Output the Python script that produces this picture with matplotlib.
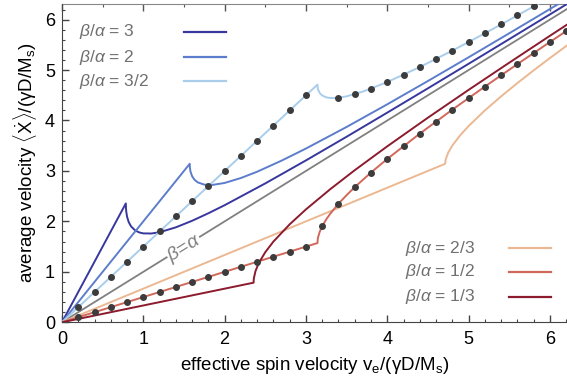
import matplotlib
matplotlib.use('Agg')
import matplotlib.pyplot as plt
from matplotlib.ticker import MultipleLocator

plt.rcParams['font.family'] = ['Liberation Sans', 'DejaVu Sans']
plt.rcParams['mathtext.fontset'] = 'custom'
plt.rcParams['mathtext.rm'] = 'Liberation Sans'
plt.rcParams['mathtext.it'] = 'Liberation Sans:italic'

# ratios beta/alpha and their colours
ratio_labels = ['3', '2', '3/2', '2/3', '1/2', '1/3']
ratio_colors = ['#37379e', '#5c7dcb', '#a9cdea', '#ebb892', '#d0685b', '#8b1b2d']

# average velocity curves (u = effective spin velocity)
u_3 = [0, 0.785, 0.787, 0.79, 0.80, 0.82, 0.85, 0.90, 0.95, 1.0, 1.1, 1.2, 1.4, 1.6, 1.8, 2.0,
       2.5, 3.0, 3.5, 4.0, 4.5, 5.0, 5.5, 6.0, 6.5]
v_3 = [0, 2.356, 2.261, 2.200, 2.096, 1.989, 1.900, 1.821, 1.781, 1.762, 1.760, 1.785, 1.882,
       2.012, 2.161, 2.321, 2.753, 3.209, 3.678, 4.156, 4.638, 5.124, 5.613, 6.103, 6.595]

u_2 = [0, 1.571, 1.5725, 1.58, 1.60, 1.63, 1.67, 1.75, 1.85, 2.0, 2.2, 2.4, 2.7, 3.0, 3.5, 4.0,
       4.5, 5.0, 5.5, 6.0, 6.5]
v_2 = [0, 3.142, 3.072, 2.990, 2.896, 2.825, 2.773, 2.729, 2.723, 2.762, 2.860, 2.985, 3.204,
       3.444, 3.872, 4.321, 4.783, 5.253, 5.729, 6.209, 6.693]

u_32 = [0, 3.142, 3.144, 3.15, 3.17, 3.2, 3.25, 3.3, 3.4, 3.5, 3.7, 4.0, 4.4, 4.8, 5.2, 5.6, 6.0]
v_32 = [0, 4.712, 4.655, 4.610, 4.543, 4.496, 4.459, 4.445, 4.450, 4.479, 4.573, 4.762, 5.060,
        5.385, 5.728, 6.082, 6.444]

u_23 = [0, 4.712, 4.714, 4.72, 4.75, 4.8, 4.9, 5.0, 5.2, 5.4, 5.6, 5.8, 6.0, 6.3, 6.5]
v_23 = [0, 3.142, 3.184, 3.236, 3.366, 3.504, 3.714, 3.890, 4.200, 4.479, 4.742, 4.994, 5.238,
        5.594, 5.826]

u_12 = [0, 3.142, 3.144, 3.15, 3.17, 3.2, 3.25, 3.3, 3.4, 3.5, 3.6, 3.8, 4.0, 4.4, 4.8, 5.2,
        5.6, 6.0, 6.5]
v_12 = [0, 1.571, 1.634, 1.690, 1.797, 1.904, 2.041, 2.155, 2.350, 2.521, 2.679, 2.969, 3.238,
        3.740, 4.215, 4.672, 5.118, 5.556, 6.095]

u_13 = [0, 2.356, 2.357, 2.36, 2.38, 2.42, 2.5, 2.6, 2.8, 3.0, 3.3, 3.6, 4.0, 4.5, 5.0, 5.5,
        6.0, 6.5]
v_13 = [0, 0.785, 0.827, 0.876, 1.017, 1.175, 1.390, 1.600, 1.942, 2.238, 2.640, 3.015, 3.488,
        4.056, 4.607, 5.146, 5.679, 6.205]

# simulation points (black dots) for beta/alpha = 3/2 and 1/2
dots_u_32 = [0.2, 0.4, 0.6, 0.8, 1.0, 1.2, 1.4, 1.6, 1.8, 2.0, 2.2, 2.4, 2.6, 2.8, 3.0,
             3.4, 3.6, 3.8, 4.0, 4.2, 4.4, 4.6, 4.8, 5.0, 5.2, 5.4, 5.6, 5.8]
dots_v_32 = [0.3, 0.6, 0.9, 1.2, 1.5, 1.8, 2.1, 2.4, 2.7, 3.0, 3.3, 3.6, 3.9, 4.2, 4.5,
             4.450, 4.521, 4.631, 4.762, 4.906, 5.060, 5.220, 5.385, 5.555, 5.728, 5.904, 6.082, 6.262]
dots_u_12 = [0.2, 0.4, 0.6, 0.8, 1.0, 1.2, 1.4, 1.6, 1.8, 2.0, 2.2, 2.4, 2.6, 2.8, 3.0,
             3.2, 3.4, 3.6, 3.8, 4.0, 4.2, 4.4, 4.6, 4.8, 5.0, 5.2, 5.4, 5.6, 5.8, 6.0, 6.2]
dots_v_12 = [0.1, 0.2, 0.3, 0.4, 0.5, 0.6, 0.7, 0.8, 0.9, 1.0, 1.1, 1.2, 1.3, 1.4, 1.5,
             1.904, 2.350, 2.679, 2.969, 3.238, 3.494, 3.740, 3.980, 4.215, 4.445, 4.672,
             4.896, 5.118, 5.338, 5.556, 5.773]

diag_u = [0, 6.5]

curves_u = [u_3, u_2, u_32, u_23, u_12, u_13]
curves_v = [v_3, v_2, v_32, v_23, v_12, v_13]

fig = plt.figure(figsize=(5.67, 3.89), dpi=100)
ax = fig.add_axes([0.1093, 0.1715, 0.8907, 0.8183])

# beta = alpha reference line
ax.plot(diag_u, diag_u, color='#808080', lw=1.3, zorder=2)
ax.text(1.50, 1.47, r'$\beta$=$\alpha$', color='#808080', fontsize=14, rotation=45,
        transform_rotates_text=True, rotation_mode='anchor', ha='center', va='center',
        bbox=dict(facecolor='white', edgecolor='none', pad=0.3), zorder=3)

for u, v, c in zip(curves_u, curves_v, ratio_colors):
    ax.plot(u, v, color=c, lw=1.4, zorder=4)

ax.plot(dots_u_32, dots_v_32, 'o', color='#3c3c3c', ms=4, zorder=5)
ax.plot(dots_u_12, dots_v_12, 'o', color='#3c3c3c', ms=4, zorder=5)

# legends drawn by hand: text left, line sample right
def legenda(x_txt, x0, x1, ys, labels, colors):
    for y, lab, c in zip(ys, labels, colors):
        ax.text(x_txt, y, r'$\beta/\alpha$ = ' + lab, transform=ax.transAxes, color='#707070',
                fontsize=12.5, va='center', ha='left')
        ax.plot([x0, x1], [y, y], color=c, lw=1.6, transform=ax.transAxes, clip_on=False)

legenda(0.034, 0.242, 0.325, [0.912, 0.833, 0.758], ratio_labels[:3], ratio_colors[:3])
legenda(0.679, 0.885, 0.968, [0.233, 0.158, 0.080], ratio_labels[3:], ratio_colors[3:])

ax.set_xlim(0, 6.21)
ax.set_ylim(0, 6.31)
ax.xaxis.set_major_locator(MultipleLocator(1))
ax.xaxis.set_minor_locator(MultipleLocator(0.2))
ax.yaxis.set_major_locator(MultipleLocator(1))
ax.yaxis.set_minor_locator(MultipleLocator(0.2))
ax.tick_params(which='both', direction='in', labelsize=13, color='#444444')
ax.tick_params(axis='x', pad=6)
ax.tick_params(axis='y', pad=5)
ax.tick_params(which='major', length=5, width=1)
ax.tick_params(which='minor', length=2.5, width=0.8)
ax.spines['right'].set_visible(False)
ax.spines['top'].set_visible(False)
for s in ['left', 'bottom']:
    ax.spines[s].set_color('#444444')

# top frame with half-unit ticks
top = ax.secondary_xaxis('top')
top.xaxis.set_major_locator(MultipleLocator(1))
top.xaxis.set_minor_locator(MultipleLocator(0.5))
top.tick_params(which='both', direction='in', labeltop=False, color='#555555')
top.tick_params(which='major', length=5, width=1)
top.tick_params(which='minor', length=2.5, width=0.8)
top.spines['top'].set_color('#888888')

ax.set_xlabel(r'effective spin velocity v$_\mathregular{e}$/(γD/M$_\mathregular{s}$)',
              fontsize=13.5, labelpad=5)
ax.set_ylabel(r'average velocity $\langle\dot{\mathrm{X}}\rangle$/(γD/M$_\mathregular{s}$)',
              fontsize=13.5, labelpad=4)

fig.savefig('out.png', dpi=100)
